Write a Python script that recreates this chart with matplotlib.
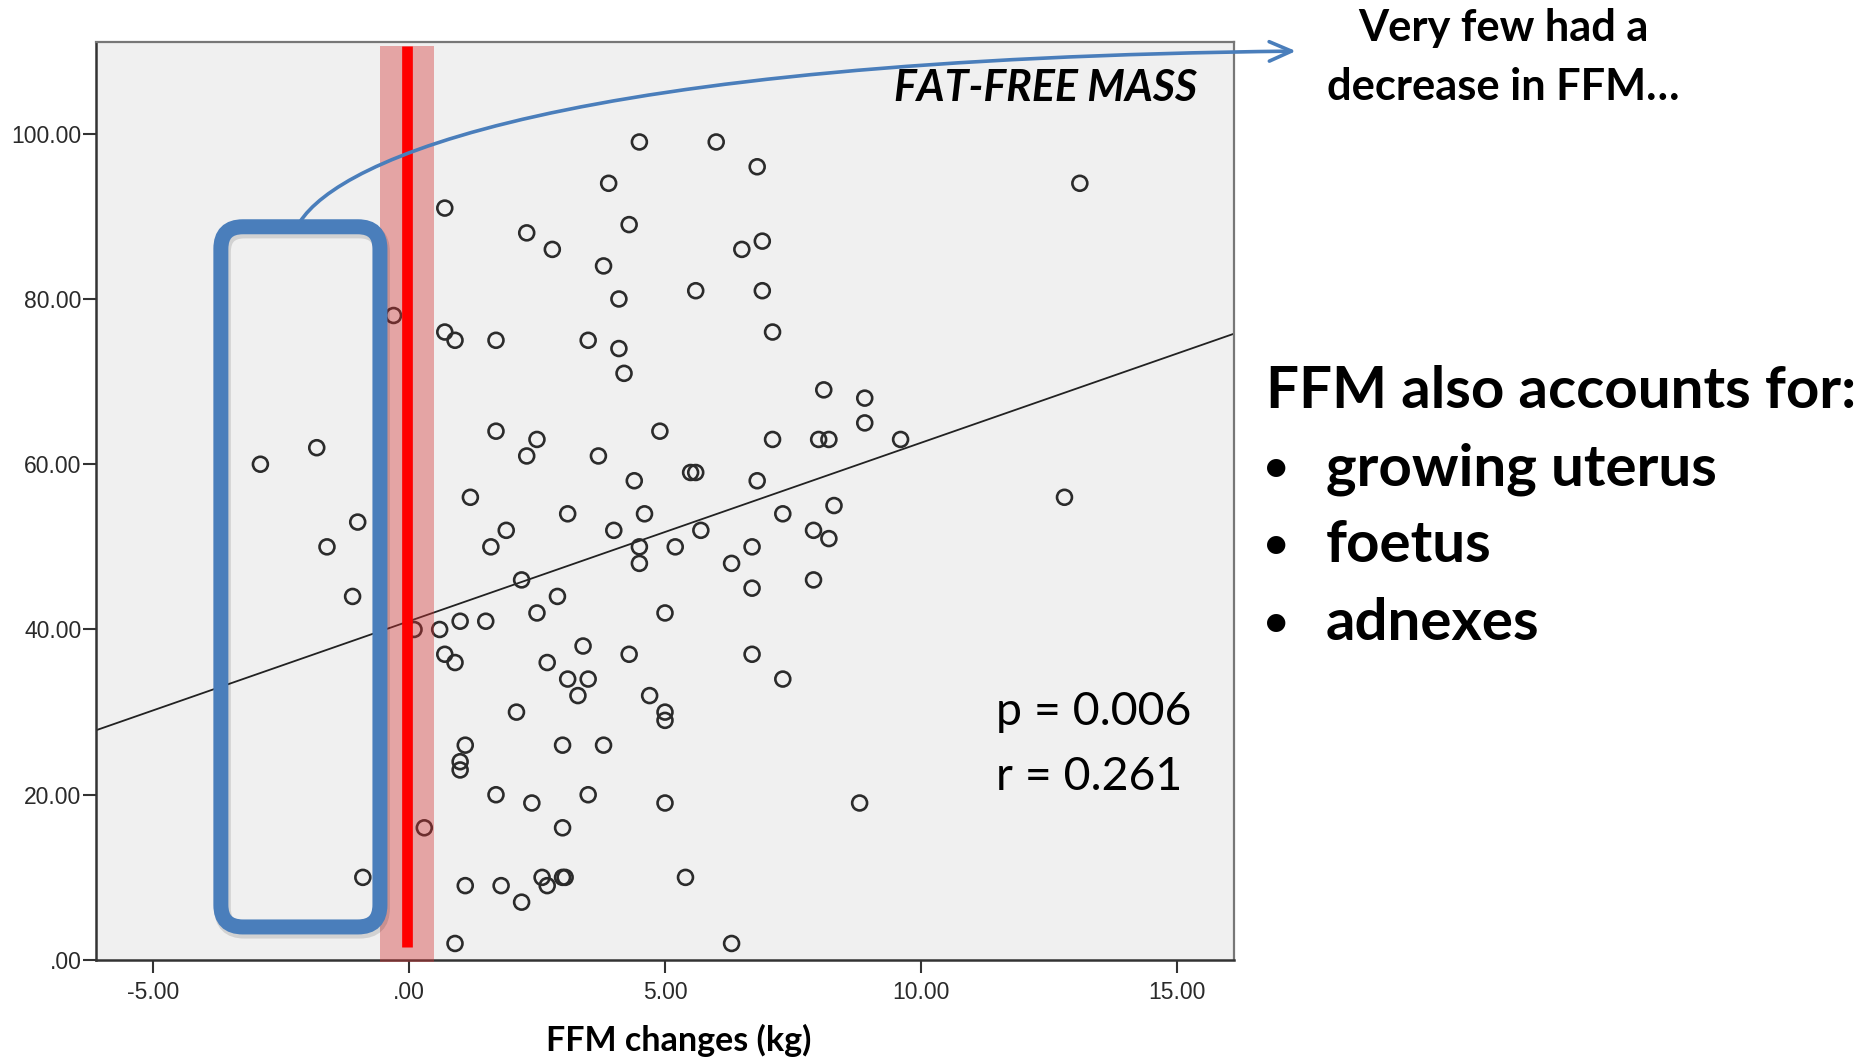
import numpy as np
import matplotlib
matplotlib.use('Agg')
import matplotlib.pyplot as plt
from matplotlib.patches import FancyBboxPatch, FancyArrowPatch, Rectangle
from matplotlib.path import Path

# FFM change (kg) and the outcome (%) for every subject
ffm_change = [4.5, 6.0, 3.9, 0.7, 2.3, 4.3, 2.8, 3.8, 5.6, 4.1,
              -0.3, 0.7, 0.9, 1.7, 3.5, 4.1, 4.2, 1.7, 2.5, 4.9,
              2.3, 3.7, -2.9, -1.8, 5.5, 5.6, 4.4, 1.2, 3.1, 4.6,
              -1.0, 1.9, 4.0, 5.7, -1.6, 1.6, 4.5, 5.2,
              4.5, 6.3, -1.1, 2.2, 2.9, 2.5, 5.0, 0.1, 0.6, 1.0,
              1.5, 0.7, 0.9, 2.7, 3.4, 4.3, 3.1, 3.5, 3.3, 4.7,
              2.1, 5.0, 5.0, 1.1, 3.0, 3.8, 1.0, 1.0, 1.7, 2.4,
              3.5, 5.0, 0.3, 3.0, -0.9, 1.1, 1.8, 2.6, 2.7, 3.0,
              3.05, 5.4, 2.2, 0.9, 6.3,
              6.7, 7.9, 8.2, 6.7, 7.9, 6.7, 7.3, 8.8,
              6.8, 13.1, 6.5, 6.9, 6.9, 7.1, 8.1, 8.9, 8.9, 7.1,
              8.0, 8.2, 9.6, 6.8, 12.8, 8.3, 7.3]
outcome = [99, 99, 94, 91, 88, 89, 86, 84, 81, 80,
           78, 76, 75, 75, 75, 74, 71, 64, 63, 64,
           61, 61, 60, 62, 59, 59, 58, 56, 54, 54,
           53, 52, 52, 52, 50, 50, 50, 50,
           48, 48, 44, 46, 44, 42, 42, 40, 40, 41,
           41, 37, 36, 36, 38, 37, 34, 34, 32, 32,
           30, 30, 29, 26, 26, 26, 24, 23, 20, 19,
           20, 19, 16, 16, 10, 9, 9, 10, 9, 10,
           10, 10, 7, 2, 2,
           50, 52, 51, 45, 46, 37, 34, 19,
           96, 94, 86, 87, 81, 76, 69, 68, 65, 63,
           63, 63, 63, 58, 56, 55, 54]

# regression line as drawn on the chart
fit_intercept = 41.0
fit_slope = 2.16

x_ticks = [-5, 0, 5, 10, 15]
x_tick_labels = ['-5.00', '.00', '5.00', '10.00', '15.00']
y_ticks = [0, 20, 40, 60, 80, 100]
y_tick_labels = ['.00', '20.00', '40.00', '60.00', '80.00', '100.00']

bullet_items = ['growing uterus', 'foetus', 'adnexes']

W, H = 1864, 1061
BLUE = '#4A7EBB'
TXT_FONT = 'Lato'


def px(fx, fy):
    """Pixel position (from top left) to figure fraction."""
    return fx / W, 1 - fy / H


def fit_width(txt, width_px, renderer):
    """Rescale text so its rendered width matches width_px."""
    bb = txt.get_window_extent(renderer)
    txt.set_fontsize(txt.get_fontsize() * width_px / bb.width)
    return txt.get_fontsize()


plt.rcParams['font.family'] = ['Liberation Sans', 'DejaVu Sans']

fig = plt.figure(figsize=(W / 100, H / 100), dpi=100)
fig.patch.set_facecolor('white')
ax = fig.add_axes([96 / W, 1 - 960 / H, (1234 - 96) / W, (960 - 42) / H])
ax.set_facecolor('#F0F0F0')
ax.set_xlim(-6.11, 16.11)
ax.set_ylim(0, 111.1)

ax.scatter(ffm_change, outcome, s=115, facecolors='none',
           edgecolors='#2b2b2b', linewidths=1.9, zorder=3)

x_line = np.array(ax.get_xlim())
ax.plot(x_line, fit_intercept + fit_slope * x_line, color='#222222',
        lw=1.3, zorder=2)

ax.set_xticks(x_ticks)
ax.set_xticklabels(x_tick_labels)
ax.set_yticks(y_ticks)
ax.set_yticklabels(y_tick_labels)
ax.tick_params(axis='both', direction='out', length=9.5, width=1.5,
               color='#333333', labelsize=16.5, labelcolor='#2a2a2a')
ax.tick_params(axis='y', pad=1.0)
ax.tick_params(axis='x', pad=5.5)
for side in ['top', 'right']:
    ax.spines[side].set_color('#777777')
    ax.spines[side].set_linewidth(1.6)
for side in ['left', 'bottom']:
    ax.spines[side].set_color('#333333')
    ax.spines[side].set_linewidth(1.8)

# shaded band and red line at zero change
band = Rectangle((-0.57, -0.24), 1.06, 110.9, facecolor='#D23434',
                 alpha=0.4, edgecolor='none', zorder=4, clip_on=False)
ax.add_patch(band)
ax.plot([-0.04, -0.04], [1.6, 110.65], color='#FF0000', lw=7.7,
        solid_capstyle='butt', zorder=5, clip_on=False)

# rounded box around the negative changes
p0 = ax.transData.transform((0, 0))
p1 = ax.transData.transform((1, 1))
aspect = (p1[0] - p0[0]) / (p1[1] - p0[1])
shadow = FancyBboxPatch((-3.64, 3.6), 3.106, 84.74,
                        boxstyle='round,pad=0,rounding_size=0.43',
                        mutation_aspect=aspect, facecolor='none',
                        edgecolor='#000000', alpha=0.12, lw=12,
                        zorder=5.5, clip_on=False)
ax.add_patch(shadow)
box = FancyBboxPatch((-3.672, 4.0), 3.106, 84.74,
                     boxstyle='round,pad=0,rounding_size=0.43',
                     mutation_aspect=aspect, facecolor='none',
                     edgecolor=BLUE, lw=10.8, zorder=6, clip_on=False)
ax.add_patch(box)

# curved arrow from the box to the comment
arrow_path = Path([(-2.13, 89.3), (-1.35, 96.9), (2.95, 109.0),
                   (17.32, 110.0)],
                  [Path.MOVETO, Path.CURVE4, Path.CURVE4, Path.CURVE4])
arrow = FancyArrowPatch(path=arrow_path,
                        arrowstyle='->,head_length=16,head_width=7',
                        mutation_scale=1, color=BLUE, lw=2.6,
                        zorder=7, clip_on=False)
ax.add_patch(arrow)

# texts
renderer = fig.canvas.get_renderer()

t_ffm = fig.text(*px(1197, 101), 'FAT-FREE MASS', family=TXT_FONT,
                 weight='bold', style='italic', fontsize=26,
                 ha='right', va='baseline', zorder=8)
fit_width(t_ffm, 303, renderer)

t_top1 = fig.text(*px(1503, 41), 'Very few had a', family=TXT_FONT,
                  weight='bold', fontsize=26, ha='center', va='baseline')
t_top2 = fig.text(*px(1503, 100), 'decrease in FFM\u2026', family=TXT_FONT,
                  weight='bold', fontsize=26, ha='center', va='baseline')
size = fit_width(t_top2, 352, renderer)
t_top1.set_fontsize(size)

t_p = fig.text(*px(996, 725), 'p = 0.006', family=TXT_FONT,
               fontsize=30, ha='left', va='baseline')
t_r = fig.text(*px(996, 790), 'r = 0.261', family=TXT_FONT,
               fontsize=30, ha='left', va='baseline')
size = fit_width(t_p, 195, renderer)
t_r.set_fontsize(size)

t_head = fig.text(*px(1266, 408), 'FFM also accounts for:', family=TXT_FONT,
                  weight='bold', fontsize=40, ha='left', va='baseline')
size = fit_width(t_head, 590, renderer)
for i, item in enumerate(bullet_items):
    fy = 485 + i * 77.5
    fig.text(*px(1276, fy - 4), '\u2022', family=TXT_FONT, weight='bold',
             fontsize=size * 0.72, ha='center', va='baseline')
    fig.text(*px(1326, fy), item, family=TXT_FONT, weight='bold',
             fontsize=size, ha='left', va='baseline')

t_xl = fig.text(*px(679, 1051), 'FFM changes (kg)', family=TXT_FONT,
                weight='bold', fontsize=22, ha='center', va='baseline')
fit_width(t_xl, 265, renderer)

fig.savefig('out.png', dpi=100)
